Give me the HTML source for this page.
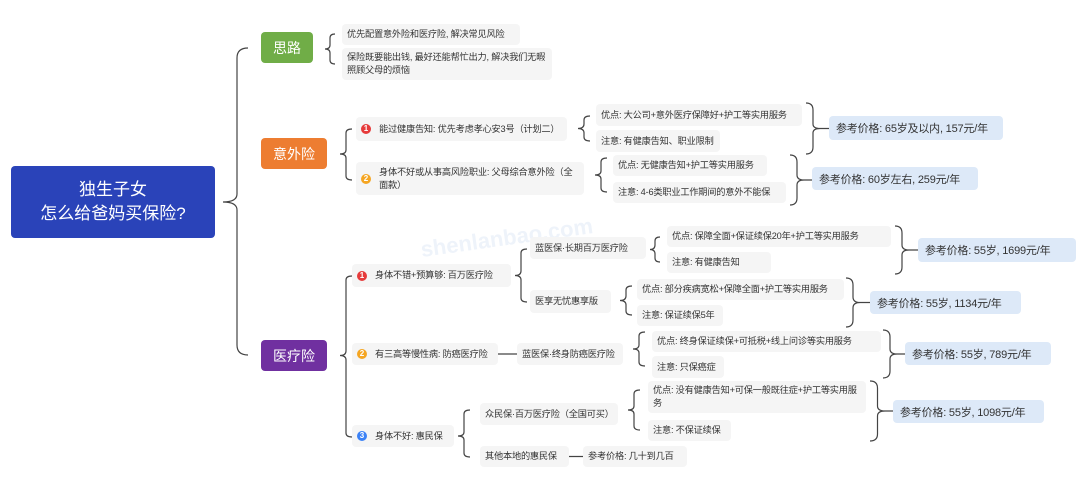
<!DOCTYPE html>
<html><head><meta charset="utf-8">
<style>
body{margin:0;width:1080px;height:491px;background:#fff;position:relative;overflow:hidden;font-family:"Liberation Sans","Noto Sans CJK SC",sans-serif;}
.b{position:absolute;box-sizing:border-box;background:#f5f5f5;border-radius:4px;font-size:9.2px;color:#333;padding:0 5px;display:flex;align-items:center;line-height:13px;white-space:nowrap;letter-spacing:-0.2px;}
.w{white-space:normal;}
.p{position:absolute;box-sizing:border-box;background:#dde9f8;border-radius:4px;font-size:11px;color:#333;padding:0 7px;display:flex;align-items:center;white-space:nowrap;letter-spacing:-0.2px;}
.t{position:absolute;box-sizing:border-box;border-radius:4px;color:#fff;font-size:14px;display:flex;align-items:center;justify-content:center;}
.n{display:inline-block;width:10px;height:10px;border-radius:50%;color:#fff;font-size:8px;line-height:10px;text-align:center;margin-right:8px;flex:none;font-weight:bold;letter-spacing:0;}
svg{position:absolute;left:0;top:0;}
</style></head><body>
<svg width="1080" height="491" fill="none" stroke="#444" stroke-width="1.2">
<path d="M248 48 Q237 48 237 58 L237 194 Q237 202 223 202 Q237 202 237 210 L237 345 Q237 355 248 355"/>
<path d="M335 34 Q330 34 330 38 L330 45 Q330 49 325 49 Q330 49 330 53 L330 60 Q330 64 335 64"/>
<path d="M352 129 Q346 129 346 133 L346 150 Q346 154 340 154 Q346 154 346 158 L346 176 Q346 180 352 180"/>
<path d="M590 116 Q584 116 584 120 L584 124 Q584 128.5 578 128.5 Q584 128.5 584 133 L584 137 Q584 141 590 141"/>
<path d="M607 158 Q601 158 601 162 L601 171 Q601 175 595 175 Q601 175 601 179 L601 188 Q601 192 607 192"/>
<path d="M352 276 Q346 276 346 280 L346 351 Q346 355.5 340 355.5 Q346 355.5 346 360 L346 433 Q346 437 352 437"/>
<path d="M527 249 Q521 249 521 253 L521 271 Q521 275.5 515 275.5 Q521 275.5 521 280 L521 298 Q521 302 527 302"/>
<path d="M660 237 Q655 237 655 241 L655 245 Q655 249.5 650 249.5 Q655 249.5 655 254 L655 258 Q655 262 660 262"/>
<path d="M632 286 Q626 286 626 290 L626 296 Q626 300.5 620 300.5 Q626 300.5 626 305 L626 311 Q626 315 632 315"/>
<path d="M645 332 Q639 332 639 336 L639 345 Q639 349 633 349 Q639 349 639 353 L639 362 Q639 366 645 366"/>
<path d="M470 410 Q464 410 464 414 L464 432 Q464 436 458 436 Q464 436 464 440 L464 453 Q464 457 470 457"/>
<path d="M640 390 Q634 390 634 394 L634 406 Q634 410 628 410 Q634 410 634 414 L634 426 Q634 430 640 430"/>
<path d="M806 103 Q813 103 813 110 L813 124 Q813 128.5 820 128.5 Q813 128.5 813 133 L813 147 Q813 154 806 154 M820 128.5 L829 128.5"/>
<path d="M790 155 Q797 155 797 162 L797 175 Q797 180 804 180 Q797 180 797 185 L797 198 Q797 205 790 205 M804 180 L812 180"/>
<path d="M895 226 Q902 226 902 233 L902 245 Q902 250 909 250 Q902 250 902 255 L902 267 Q902 274 895 274 M909 250 L918 250"/>
<path d="M846 278 Q853 278 853 285 L853 297 Q853 302.5 860 302.5 Q853 302.5 853 308 L853 320 Q853 327 846 327 M860 302.5 L870 302.5"/>
<path d="M883 330 Q890 330 890 337 L890 349 Q890 354 897 354 Q890 354 890 359 L890 371 Q890 378 883 378 M897 354 L905 354"/>
<path d="M870 381 Q877.5 381 877.5 388 L877.5 406 Q877.5 411 885 411 Q877.5 411 877.5 416 L877.5 434 Q877.5 441 870 441 M885 411 L893 411"/>
<path d="M497 354 L517 354 M568 456.5 L583 456.5"/>
</svg>
<div style="position:absolute;left:420px;top:225px;font-size:22px;color:#eef3fa;font-weight:bold;transform:rotate(-8deg)">shenlanbao.com</div>

<div class="t" style="left:11px;top:166px;width:204px;height:72px;background:#2a43b9;font-size:17px;line-height:24px;text-align:center;flex-direction:column">独生子女<br>怎么给爸妈买保险?</div>
<div class="t" style="left:261px;top:32px;width:52px;height:31px;background:#70ad47">思路</div>
<div class="t" style="left:261px;top:138px;width:66px;height:31px;background:#ed7d31">意外险</div>
<div class="t" style="left:261px;top:340px;width:66px;height:31px;background:#7030a0">医疗险</div>

<div class="b" style="left:342px;top:24px;width:178px;height:21px">优先配置意外险和医疗险, 解决常见风险</div>
<div class="b w" style="left:342px;top:48px;width:210px;height:32px">保险既要能出钱, 最好还能帮忙出力, 解决我们无暇照顾父母的烦恼</div>

<div class="b" style="left:356px;top:117px;width:211px;height:24px"><span class="n" style="background:#e63b3b">1</span>能过健康告知: 优先考虑孝心安3号（计划二）</div>
<div class="b w" style="left:356px;top:162px;width:228px;height:33px"><span class="n" style="background:#f5a623">2</span>身体不好或从事高风险职业: 父母综合意外险（全面款）</div>
<div class="b" style="left:596px;top:104px;width:206px;height:22px">优点: 大公司+意外医疗保障好+护工等实用服务</div>
<div class="b" style="left:596px;top:130px;width:124px;height:22px">注意: 有健康告知、职业限制</div>
<div class="p" style="left:829px;top:116px;width:174px;height:24px">参考价格: 65岁及以内, 157元/年</div>
<div class="b" style="left:613px;top:155px;width:154px;height:21px">优点: 无健康告知+护工等实用服务</div>
<div class="b" style="left:613px;top:182px;width:173px;height:21px">注意: 4-6类职业工作期间的意外不能保</div>
<div class="p" style="left:812px;top:167px;width:166px;height:23px">参考价格: 60岁左右, 259元/年</div>

<div class="b" style="left:352px;top:264px;width:159px;height:23px"><span class="n" style="background:#e63b3b">1</span>身体不错+预算够: 百万医疗险</div>
<div class="b" style="left:530px;top:237px;width:116px;height:22px">蓝医保·长期百万医疗险</div>
<div class="b" style="left:530px;top:290px;width:81px;height:23px">医享无忧惠享版</div>
<div class="b" style="left:667px;top:226px;width:224px;height:21px">优点: 保障全面+保证续保20年+护工等实用服务</div>
<div class="b" style="left:667px;top:252px;width:104px;height:21px">注意: 有健康告知</div>
<div class="p" style="left:918px;top:238px;width:158px;height:24px">参考价格: 55岁, 1699元/年</div>
<div class="b" style="left:637px;top:279px;width:207px;height:21px">优点: 部分疾病宽松+保障全面+护工等实用服务</div>
<div class="b" style="left:637px;top:305px;width:86px;height:21px">注意: 保证续保5年</div>
<div class="p" style="left:870px;top:291px;width:151px;height:23px">参考价格: 55岁, 1134元/年</div>

<div class="b" style="left:352px;top:343px;width:146px;height:22px"><span class="n" style="background:#f5a623">2</span>有三高等慢性病: 防癌医疗险</div>
<div class="b" style="left:517px;top:343px;width:106px;height:22px">蓝医保·终身防癌医疗险</div>
<div class="b" style="left:652px;top:331px;width:229px;height:21px">优点: 终身保证续保+可抵税+线上问诊等实用服务</div>
<div class="b" style="left:652px;top:356px;width:72px;height:22px">注意: 只保癌症</div>
<div class="p" style="left:905px;top:342px;width:146px;height:23px">参考价格: 55岁, 789元/年</div>

<div class="b" style="left:352px;top:425px;width:102px;height:22px"><span class="n" style="background:#3b82f6">3</span>身体不好: 惠民保</div>
<div class="b" style="left:480px;top:403px;width:138px;height:22px">众民保·百万医疗险（全国可买）</div>
<div class="b" style="left:480px;top:446px;width:89px;height:21px">其他本地的惠民保</div>
<div class="b" style="left:583px;top:446px;width:104px;height:21px">参考价格: 几十到几百</div>
<div class="b w" style="left:648px;top:381px;width:218px;height:32px">优点: 没有健康告知+可保一般既往症+护工等实用服务</div>
<div class="b" style="left:648px;top:420px;width:83px;height:21px">注意: 不保证续保</div>
<div class="p" style="left:893px;top:400px;width:151px;height:23px">参考价格: 55岁, 1098元/年</div>
</body></html>
